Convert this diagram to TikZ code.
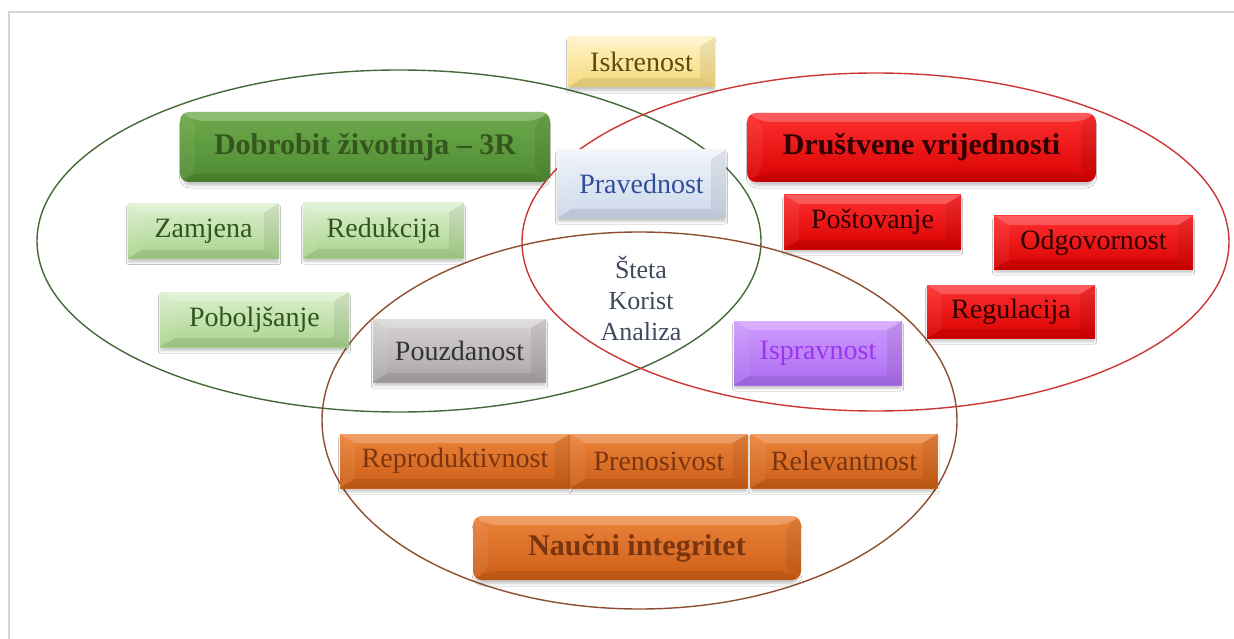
\documentclass[tikz,border=0pt]{standalone}
\usepackage{fontspec}
\setmainfont{Liberation Serif}
\usetikzlibrary{shapes.geometric,shadows.blur}
\definecolor{framec}{HTML}{D4D4D4}
\definecolor{ellG}{HTML}{46693A}
\definecolor{ellR}{HTML}{CC3636}
\definecolor{ellB}{HTML}{8E4F30}
\definecolor{yTop}{HTML}{FFF4C4}\definecolor{yBot}{HTML}{F6D97C}\definecolor{yTxt}{HTML}{5E4B12}
\definecolor{dgTop}{HTML}{6EAA4C}\definecolor{dgBot}{HTML}{4E8A31}\definecolor{dgTxt}{HTML}{35561F}
\definecolor{lgTop}{HTML}{DDF0CF}\definecolor{lgBot}{HTML}{A9D38D}\definecolor{lgTxt}{HTML}{2F561E}
\definecolor{bTop}{HTML}{F0F4FB}\definecolor{bBot}{HTML}{CDD8EA}\definecolor{bTxt}{HTML}{2F4F9A}
\definecolor{rTop}{HTML}{FF3030}\definecolor{rBot}{HTML}{D80000}\definecolor{rTxt}{HTML}{2E0000}
\definecolor{vTop}{HTML}{CF9CFF}\definecolor{vBot}{HTML}{AC6CEF}\definecolor{vTxt}{HTML}{9B35F2}
\definecolor{gTop}{HTML}{D8D4D4}\definecolor{gBot}{HTML}{ABA6A6}\definecolor{gTxt}{HTML}{333333}
\definecolor{oTop}{HTML}{EC843C}\definecolor{oBot}{HTML}{CC5E16}\definecolor{oTxt}{HTML}{7A3510}
\definecolor{sTxt}{HTML}{3F4A5C}
\newcommand\bvx{15pt}
\newcommand\bvy{9pt}
\newcommand\lblfont{\fontsize{28}{30}\selectfont}
\newcommand\ttlfont{\fontsize{30}{32}\selectfont\bfseries}
\tikzset{
  bx/.style={rectangle, inner sep=0pt, font=\lblfont,
    blur shadow={shadow xshift=0pt, shadow yshift=-4pt, shadow blur radius=2.5pt, shadow opacity=22, shadow scale=0.99},
    path picture={
      \path (path picture bounding box.north west) coordinate (pA)
            (path picture bounding box.north east) coordinate (pB)
            (path picture bounding box.south east) coordinate (pC)
            (path picture bounding box.south west) coordinate (pD);
      \coordinate (pa) at ([shift={(\bvx,-\bvy)}]pA);
      \coordinate (pb) at ([shift={(-\bvx,-\bvy)}]pB);
      \coordinate (pc) at ([shift={(-\bvx,\bvy)}]pC);
      \coordinate (pd) at ([shift={(\bvx,\bvy)}]pD);
      \fill[white,opacity=.22] (pA)--(pB)--(pb)--(pa)--cycle;
      \fill[white,opacity=.06] (pA)--(pa)--(pd)--(pD)--cycle;
      \fill[black,opacity=.07] (pB)--(pC)--(pc)--(pb)--cycle;
      \fill[black,opacity=.09] (pD)--(pd)--(pc)--(pC)--cycle;
    }},
  ttl/.style={bx, font=\ttlfont, rounded corners=9pt},
  cY/.style={top color=yTop, bottom color=yBot, text=yTxt},
  cDG/.style={top color=dgTop, bottom color=dgBot, text=dgTxt},
  cLG/.style={top color=lgTop, bottom color=lgBot, text=lgTxt},
  cB/.style={top color=bTop, bottom color=bBot, text=bTxt},
  cR/.style={top color=rTop, bottom color=rBot, text=rTxt},
  cV/.style={top color=vTop, bottom color=vBot, text=vTxt},
  cG/.style={top color=gTop, bottom color=gBot, text=gTxt},
  cO/.style={top color=oTop, bottom color=oBot, text=oTxt},
  ell/.style={ellipse, draw, line width=1.4pt, inner sep=0pt},
}
\begin{document}
\begin{tikzpicture}[x=1pt,y=-1pt]
\useasboundingbox (0,0) rectangle (1234,639);
\fill[white] (0,0) rectangle (1234,639);
\draw[framec, line width=2pt] (9,639) -- (9,12) -- (1234,12);
% ellipses
\node[ell, draw=ellG, minimum width=724pt, minimum height=342pt] (eG) at (399,241) {};
\node[ell, draw=ellR, minimum width=707pt, minimum height=338pt] (eR) at (875.5,242) {};
\node[ell, draw=ellB, minimum width=635pt, minimum height=377pt] (eB) at (639.5,420.5) {};
% boxes
\node[bx, cY, minimum width=147pt, minimum height=50pt] (isk) at (641.5,62) {Iskrenost};
\node[ttl, cDG, minimum width=370pt, minimum height=70pt] (dob) at (365,147) {Dobrobit životinja – 3R};
\node[bx, cLG, minimum width=151pt, minimum height=55pt] (zam) at (203.5,231) {Zamjena};
\node[bx, cLG, minimum width=161pt, minimum height=55pt] (red) at (383.5,230.5) {Redukcija};
\node[bx, cLG, minimum width=189pt, minimum height=55pt] (pob) at (254.5,319.5) {Poboljšanje};
\node[bx, cB, minimum width=169pt, minimum height=68pt] (pra) at (641.5,184) {Pravednost};
\node[ttl, cR, minimum width=349pt, minimum height=69pt] (dru) at (921.5,147.5) {Društvene vrijednosti};
\node[bx, cR, minimum width=177pt, minimum height=54pt] (pos) at (872.5,222) {Poštovanje};
\node[bx, cR, minimum width=199pt, minimum height=53pt] (odg) at (1093.5,242.5) {Odgovornost};
\node[bx, cR, minimum width=168pt, minimum height=53pt] (reg) at (1011,311.5) {Regulacija};
\node[bx, cV, minimum width=168pt, minimum height=64pt] (isp) at (818,353) {Ispravnost};
\node[bx, cG, minimum width=173pt, minimum height=63pt] (pou) at (459.5,350.5) {Pouzdanost};
\node[bx, cO, minimum width=230pt, minimum height=54pt] (rep) at (455,461) {Reproduktivnost};
\node[bx, cO, minimum width=177pt, minimum height=54pt] (pre) at (659,461) {Prenosivost};
\node[bx, cO, minimum width=187pt, minimum height=54pt] (rel) at (844,461) {Relevantnost};
\node[ttl, cO, minimum width=328pt, minimum height=64pt] (nau) at (637,548) {Naučni integritet};
% centre text
\node[align=center, text=sTxt, font=\fontsize{26}{31}\selectfont] (ska) at (641,298) {Šteta\\Korist\\Analiza};
\end{tikzpicture}
\end{document}
